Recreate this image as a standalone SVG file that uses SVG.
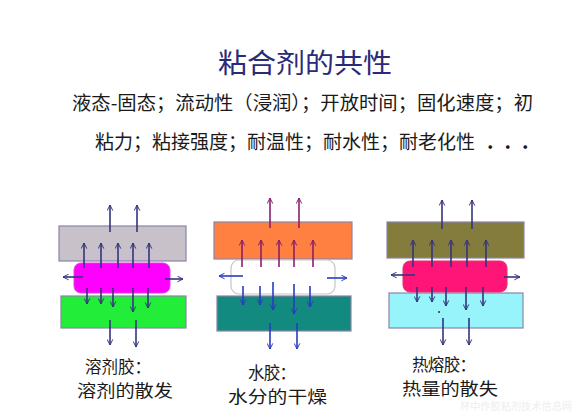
<svg xmlns="http://www.w3.org/2000/svg" width="575" height="413" viewBox="0 0 575 413">
<defs>
<style>
text{font-family:"Noto Sans CJK SC","Noto Sans",sans-serif;}
.t{font-size:27px;fill:#2b2a78;}
.b{font-size:19px;fill:#1a1a1a;}
.l{font-size:16.5px;fill:#1a1a1a;}
.w{font-size:10px;fill:#eeeef1;}
.plate{stroke:#8a84a8;stroke-width:1.2;}
.a1{stroke:#34347e;stroke-width:1.6;fill:none;marker-end:url(#m1);}
.a2{stroke:#8a1f6a;stroke-width:1.6;fill:none;marker-end:url(#m2);}
.a3{stroke:#2a3ac0;stroke-width:1.6;fill:none;marker-end:url(#m3);}
</style>
<marker id="m1" viewBox="0 0 10 10" refX="9" refY="5" markerWidth="7" markerHeight="7" orient="auto" markerUnits="userSpaceOnUse"><path d="M1,1 L9,5 L1,9" fill="none" stroke="#34347e" stroke-width="1.4"/></marker>
<marker id="m2" viewBox="0 0 10 10" refX="9" refY="5" markerWidth="7" markerHeight="7" orient="auto" markerUnits="userSpaceOnUse"><path d="M1,1 L9,5 L1,9" fill="none" stroke="#8a1f6a" stroke-width="1.4"/></marker>
<marker id="m3" viewBox="0 0 10 10" refX="9" refY="5" markerWidth="7" markerHeight="7" orient="auto" markerUnits="userSpaceOnUse"><path d="M1,1 L9,5 L1,9" fill="none" stroke="#2a3ac0" stroke-width="1.4"/></marker>
</defs>
<rect width="575" height="413" fill="#ffffff"/>
<g id="title"><text class="t" x="218" y="73" textLength="174" lengthAdjust="spacingAndGlyphs">粘合剂的共性</text></g>
<g id="text">
<text class="b" x="72" y="110" textLength="461" lengthAdjust="spacingAndGlyphs">液态-固态；流动性（浸润）；开放时间；固化速度；初</text>
<text class="b" x="95" y="149">粘力；粘接强度；耐温性；耐水性；耐老化性<tspan font-weight="bold" font-size="20" letter-spacing="11" dx="12">...</tspan></text>
</g>
<g id="panel1">
<rect class="plate" x="59" y="226" width="127" height="35" fill="#c9c1c9"/>
<rect class="plate" x="61" y="296" width="125" height="32" fill="#22ee3a"/>
<rect x="74" y="263" width="96" height="30" rx="7" fill="#ff00ff" stroke="#e040e0" stroke-width="1"/>
</g>
<g id="panel2">
<rect class="plate" x="214" y="222" width="138" height="37" fill="#ff8040"/>
<rect class="plate" x="217" y="296" width="134" height="35" fill="#138a80"/>
<rect x="231" y="260" width="104" height="34" rx="8" fill="#ffffff" stroke="#c8c4c8" stroke-width="1.2"/>
</g>
<g id="panel3">
<rect class="plate" x="387" y="222" width="137" height="36" fill="#837c3c"/>
<rect class="plate" x="389" y="293" width="134" height="35" fill="#96f4fa"/>
<rect x="403" y="261" width="104" height="31" rx="7" fill="#ff1478" stroke="#e0306a" stroke-width="1"/>
<circle cx="439" cy="312" r="1" fill="#333"/>
</g>
<g id="connectors">
<path class="a1" d="M110,232 V205"/><path class="a1" d="M137,232 V205"/>
<path class="a1" d="M84,268 V243"/><path class="a1" d="M101,268 V243"/><path class="a1" d="M118,268 V243"/><path class="a1" d="M133,268 V243"/><path class="a1" d="M149,268 V243"/>
<path class="a1" d="M83,277 H63"/><path class="a1" d="M165,279 H183"/>
<path class="a1" d="M87,288 V304"/><path class="a1" d="M101,288 V304"/><path class="a1" d="M113,288 V307"/><path class="a1" d="M133,288 V312"/><path class="a1" d="M148,288 V308"/>
<path class="a1" d="M110,320 V345"/><path class="a1" d="M136,320 V347"/>
<path class="a2" d="M270,228 V198"/><path class="a2" d="M299,228 V198"/>
<path class="a2" d="M242,267 V240"/><path class="a2" d="M261,267 V240"/><path class="a2" d="M279,267 V240"/><path class="a2" d="M294,267 V240"/><path class="a2" d="M313,267 V240"/>
<path class="a3" d="M243,276 H219"/><path class="a3" d="M327,278 H347"/>
<path class="a3" d="M243,286 V305"/><path class="a3" d="M260,286 V305"/><path class="a3" d="M273,282 V310"/><path class="a3" d="M294,284 V314"/><path class="a3" d="M310,286 V307"/>
<path class="a3" d="M270,323 V349"/><path class="a3" d="M297,323 V349"/>
<path class="a1" d="M442,229 V200"/><path class="a1" d="M472,229 V200"/>
<path class="a1" d="M413,267 V240"/><path class="a1" d="M432,267 V240"/><path class="a1" d="M451,267 V240"/><path class="a1" d="M467,267 V240"/><path class="a1" d="M486,267 V240"/>
<path class="a1" d="M415,275 H391"/><path class="a1" d="M504,277 H520"/>
<path class="a1" d="M417,287 V302"/><path class="a1" d="M432,287 V302"/><path class="a1" d="M446,287 V306"/><path class="a1" d="M466,287 V310"/><path class="a1" d="M483,287 V306"/>
<path class="a1" d="M443,318 V345"/><path class="a1" d="M469,318 V345"/>
</g>
<g id="labels">
<text class="l" x="85" y="373" textLength="66">溶剂胶：</text>
<text class="l" x="77" y="397" textLength="96" lengthAdjust="spacingAndGlyphs">溶剂的散发</text>
<text class="l" x="248" y="379" textLength="48">水胶：</text>
<text class="l" x="228" y="403" textLength="99" lengthAdjust="spacingAndGlyphs">水分的干燥</text>
<text class="l" x="412" y="371" textLength="64">热熔胶：</text>
<text class="l" x="402" y="395" textLength="96" lengthAdjust="spacingAndGlyphs">热量的散失</text>
<text class="w" x="460" y="410" textLength="112" lengthAdjust="spacingAndGlyphs">杯中作胶粘剂技术信息网</text>
</g>
</svg>
